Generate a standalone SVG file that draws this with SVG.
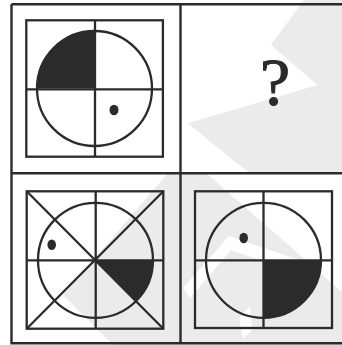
<svg xmlns="http://www.w3.org/2000/svg" width="342" height="345" viewBox="0 0 342 345">
<style>
.ln{fill:none;stroke:#2b2b2b;stroke-width:2.3}
.fr{fill:none;stroke:#2b2b2b;stroke-width:2.4}
.blk{fill:#2b2b2b;stroke:none}
.wm{fill:#ebebeb;stroke:none}
.wh{fill:#ffffff;stroke:none}
.q{font-family:"Liberation Serif",serif;font-size:68px;fill:#2b2b2b;stroke:#2b2b2b;stroke-width:1}
</style>
<rect x="0" y="0" width="342" height="345" fill="#ffffff"/>
<g id="watermark">
<polygon class="wm" points="304,0 342,0 342,172 248,172 187.7,123.3 317.7,85 271,45"/>
<polygon class="wm" points="169,172 342,172 342,345 113,345 63,295"/>
<polygon class="wh" points="205,172 342,172 342,292"/>
<polygon class="wh" points="183,288 229,236 305,262 300,274 231,250 190,298"/>
<polygon class="wh" points="239,318 250,306 252,330 243,339"/>
</g>
<g id="frame">
<path class="fr" d="M11.5,4.3 H342 M11.5,4.3 V343.2 H342 M180.5,4.3 V343.2 M11.5,173.3 H342"/>
</g>
<g id="cell-tl">
<path class="blk" d="M94.5,88.5 H37 A57.5,57.5 0 0 1 94.5,31 Z"/>
<circle class="ln" cx="94.5" cy="88.5" r="57.5"/>
<rect class="ln" x="26.3" y="20.3" width="136.6" height="136.4"/>
<path class="ln" d="M95,20.3 V156.7 M26.3,89.3 H162.9"/>
<ellipse class="blk" cx="114" cy="110" rx="4.5" ry="5.2"/>
</g>
<g id="cell-tr">
<text class="q" x="275" y="105" text-anchor="middle">?</text>
</g>
<g id="cell-bl">
<path class="blk" d="M95.5,260.3 H153 A57.5,57.5 0 0 1 136.2,300.9 Z"/>
<circle class="ln" cx="95.5" cy="260.3" r="57.5"/>
<rect class="ln" x="26.7" y="191.3" width="136.6" height="137.4"/>
<path class="ln" d="M95.7,191.3 V328.7 M26.7,260.3 H163.3 M26.7,191.3 L163.3,328.7 M163.3,191.3 L26.7,328.7"/>
<ellipse class="blk" cx="51.7" cy="244.7" rx="4.3" ry="5.2"/>
</g>
<g id="cell-br">
<path class="blk" d="M263.5,260.3 H321 A57.5,57.5 0 0 1 263.5,317.8 Z"/>
<circle class="ln" cx="263.5" cy="260.3" r="57.5"/>
<rect class="ln" x="195" y="191.3" width="137" height="136.7"/>
<path class="ln" d="M263.5,191.3 V328 M195,260.3 H332"/>
<ellipse class="blk" cx="243.7" cy="238" rx="4.3" ry="5.2"/>
</g>
</svg>
